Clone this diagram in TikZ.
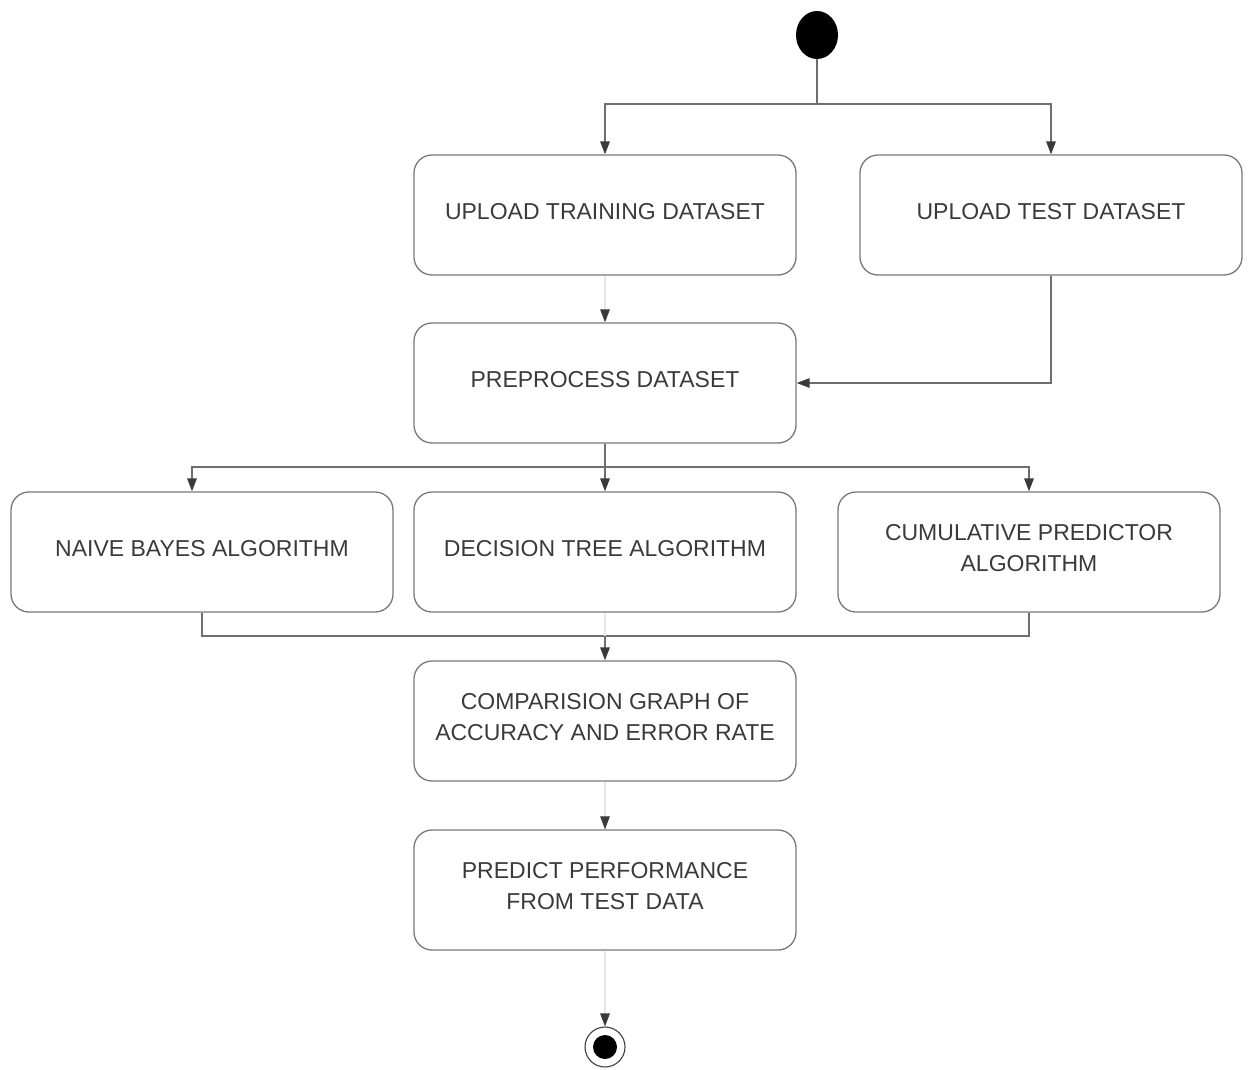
\documentclass[tikz,border=0pt]{standalone}
\usepackage{fontspec}
\setmainfont{Liberation Sans}
\usetikzlibrary{arrows.meta,shapes.geometric}
\definecolor{linec}{HTML}{6E6E6E}
\definecolor{boxc}{HTML}{787878}
\definecolor{txtc}{HTML}{3A3A3A}
\definecolor{tipc}{HTML}{3A3A3A}
\definecolor{faintc}{HTML}{E6E6E6}
\begin{document}
\begin{tikzpicture}[x=1pt,y=-1pt,
  actbox/.style={draw=boxc, line width=1.3pt, rounded corners=18pt,
    minimum width=382pt, minimum height=120pt, align=center,
    text=txtc, font=\fontsize{23}{31}\selectfont, text depth=8pt, inner sep=0pt},
  conn/.style={draw=linec, line width=1.4pt},
  arr/.style={conn, -{Triangle[length=13pt,width=9.5pt,color=tipc]}},
  faintarr/.style={draw=faintc, line width=1.2pt, -{Triangle[length=13pt,width=9.5pt,color=tipc]}}
]
\useasboundingbox (0,0) rectangle (1253,1069);

\node (start) [ellipse, fill=black, minimum width=42pt, minimum height=48pt, inner sep=0pt] at (817,35) {};

\node (train) [actbox] at (605,215) {UPLOAD TRAINING DATASET};
\node (test)  [actbox] at (1051,215) {UPLOAD TEST DATASET};
\node (prep)  [actbox] at (605,383) {PREPROCESS DATASET};
\node (naive) [actbox] at (202,552) {NAIVE BAYES ALGORITHM};
\node (dtree) [actbox] at (605,552) {DECISION TREE ALGORITHM};
\node (cum)   [actbox] at (1029,552) {CUMULATIVE PREDICTOR\\ALGORITHM};
\node (comp)  [actbox] at (605,721) {COMPARISION GRAPH OF\\ACCURACY AND ERROR RATE};
\node (pred)  [actbox] at (605,890) {PREDICT PERFORMANCE\\FROM TEST DATA};

\node (end) [circle, draw=black!75, line width=1.1pt, minimum size=40pt, inner sep=0pt] at (605,1047) {};
\node (enddot) [circle, fill=black, minimum size=24pt, inner sep=0pt] at (end.center) {};

% fork from start
\coordinate (fork) at (817,104);
\draw[conn] (start) -- (fork);
\draw[arr] (fork) -| (train);
\draw[arr] (fork) -| (test);

% to preprocess
\draw[faintarr] (train) -- (prep);
\draw[arr] (test) |- (prep);

% fork to algorithms
\coordinate (fork2) at (605,467);
\draw[conn] (prep) -- (fork2);
\draw[arr] (fork2) -| ([xshift=-10pt]naive.north);
\draw[arr] (fork2) -- (dtree);
\draw[arr] (fork2) -| (cum);

% join
\coordinate (join) at (605,636);
\draw[conn] (naive) |- (join) -| (cum);
\draw[draw=faintc, line width=1.2pt] (dtree) -- (join);
\draw[arr] (join) -- (comp);

\draw[faintarr] (comp) -- (pred);
\draw[faintarr] (pred) -- (end);
\end{tikzpicture}
\end{document}
